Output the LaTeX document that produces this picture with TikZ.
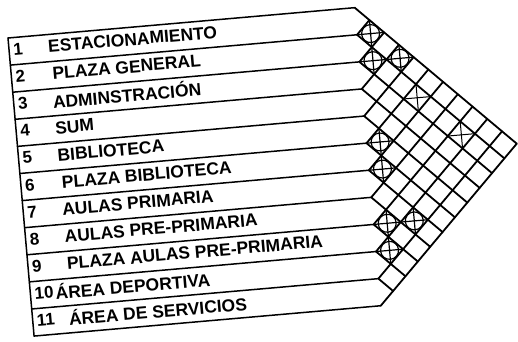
\documentclass[tikz,border=0pt]{standalone}
\usepackage{fontspec}
\setmainfont{Liberation Sans}
\usetikzlibrary{positioning}

\begin{document}
\begin{tikzpicture}[x=1pt, y=-1pt,
  contorno/.style={line width=1.5pt, line join=round, line cap=round},
  malla/.style={line width=1.8pt, line cap=round},
  numero/.style={anchor=west, inner sep=0pt, font=\bfseries\fontsize{17}{17}\selectfont},
  nombre/.style={anchor=west, inner sep=0pt, font=\bfseries\fontsize{17.5}{17}\selectfont},
  fuerte/.style={line width=1.2pt},
  media/.style={line width=1pt},
]
\useasboundingbox (0,0) rectangle (518,341);
\begin{scope}[shift={(8,38)}, rotate=5, transform shape]
\def\ancho{348}
\def\alto{27.2}
% filas
\draw[contorno] (0,0) -- (0,11*\alto);
\foreach \k in {0,...,11}
  \draw[contorno] (0,\k*\alto) -- (\ancho,\k*\alto);
% matriz
\foreach \i in {0,...,10}
  \draw[malla] (\ancho,\i*\alto) -- ++({(11-\i)*\alto/2},{(11-\i)*\alto/2});
\foreach \j in {1,...,11}
  \draw[malla] (\ancho,\j*\alto) -- ++({\j*\alto/2},{-\j*\alto/2});
% nombres
\foreach \k/\x/\txt in {1/39/ESTACIONAMIENTO, 2/41/PLAZA GENERAL,
    3/39/ADMINSTRACIÓN, 4/39/SUM, 5/39/BIBLIOTECA, 6/41/PLAZA BIBLIOTECA,
    7/39/AULAS PRIMARIA, 8/39/AULAS PRE-PRIMARIA,
    9/39/PLAZA AULAS PRE-PRIMARIA, 10/25/ÁREA DEPORTIVA,
    11/36/ÁREA DE SERVICIOS} {
  \node[numero] (n\k) at (4,{(\k-0.55)*\alto}) {\k};
  \node[nombre] (t\k) at (\x,{(\k-0.55)*\alto}) {\txt};
}
% relaciones
\foreach \a/\b in {1/2, 2/3, 1/4, 5/6, 6/7, 8/9, 9/10, 7/10} {
  \pgfmathsetmacro\cx{\ancho+(\b-\a)*\alto/2}
  \pgfmathsetmacro\cy{(\a+\b-1)*\alto/2}
  \draw[fuerte] (\cx,\cy) circle[radius=9pt];
  \draw[fuerte] (\cx-\alto/2,\cy) -- (\cx+\alto/2,\cy)
    (\cx,\cy-\alto/2) -- (\cx,\cy+\alto/2);
}
\foreach \a/\b in {2/6, 2/9} {
  \pgfmathsetmacro\cx{\ancho+(\b-\a)*\alto/2}
  \pgfmathsetmacro\cy{(\a+\b-1)*\alto/2}
  \draw[media] (\cx-\alto/2,\cy) -- (\cx+\alto/2,\cy)
    (\cx,\cy-\alto/2) -- (\cx,\cy+\alto/2);
}
\end{scope}
\end{tikzpicture}
\end{document}
